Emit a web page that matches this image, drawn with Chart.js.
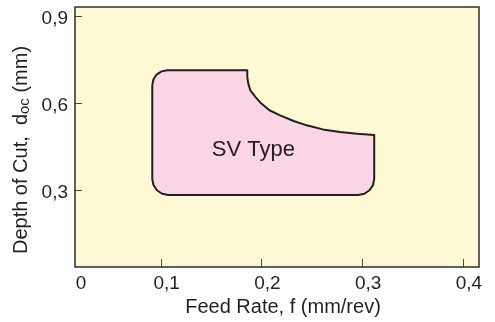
<!DOCTYPE html>
<html>
<head>
<meta charset="utf-8">
<script src="https://cdn.jsdelivr.net/npm/chart.js@4.4.0/dist/chart.umd.min.js"></script>
<style>
  html, body { margin: 0; padding: 0; background: #fff; }
  #wrap { width: 495px; height: 322px; }
</style>
</head>
<body>
<div id="wrap"><canvas id="chart"></canvas></div>
<script>
// axis ticks
var xTicks = [0, 0.1, 0.2, 0.3, 0.4];
var xTickLabels = ['0', '0,1', '0,2', '0,3', '0,4'];
var yTicks = [0.3, 0.6, 0.9];
var yTickLabels = ['0,3', '0,6', '0,9'];

// outline of the SV Type region (feed rate mm/rev, depth of cut mm), clockwise from the left edge
var shapeFeed = [0.0917, 0.0928, 0.0960, 0.1009, 0.1066, 0.186,
                 0.186, 0.187, 0.189, 0.194, 0.200, 0.208, 0.218, 0.232, 0.245, 0.261, 0.278, 0.295, 0.312,
                 0.312, 0.3108, 0.3073, 0.3022, 0.2961,
                 0.1076, 0.1015, 0.0963, 0.0929, 0.0917, 0.0917];
var shapeDepth = [0.661, 0.681, 0.698, 0.709, 0.713, 0.713,
                  0.690, 0.667, 0.644, 0.621, 0.598, 0.575, 0.558, 0.538, 0.523, 0.509, 0.500, 0.494, 0.490,
                  0.338, 0.317, 0.299, 0.287, 0.283,
                  0.283, 0.287, 0.299, 0.317, 0.338, 0.661];

var regionLabel = 'SV Type';
var xTitle = 'Feed Rate, f (mm/rev)';
var yTitle = ['Depth of Cut,  d', 'oc', ' (mm)'];

var FONT = '"Liberation Sans", Arial, Helvetica, sans-serif';
var TEXT = '#231f20';

var shapePoints = shapeFeed.map(function (f, i) {
    return { x: f, y: shapeDepth[i] };
});

// pale plot background, frame, inward tick marks, titles and region label
var decorPlugin = {
    id: 'decor',
    beforeDatasetsDraw: function (chart) {
        var a = chart.chartArea, ctx = chart.ctx;
        ctx.save();
        ctx.fillStyle = '#fff8d5';
        ctx.fillRect(a.left, a.top, a.right - a.left, a.bottom - a.top);
        ctx.restore();
    },
    afterDraw: function (chart) {
        var a = chart.chartArea, ctx = chart.ctx;
        var xs = chart.scales.x, ys = chart.scales.y;
        ctx.save();

        // tick marks pointing into the plot
        ctx.strokeStyle = '#4a4a4a';
        ctx.lineWidth = 1;
        xTicks.forEach(function (v) {
            if (v <= xs.min) return;
            var px = Math.round(xs.getPixelForValue(v)) + 0.5;
            ctx.beginPath();
            ctx.moveTo(px, a.bottom);
            ctx.lineTo(px, a.bottom - 8);
            ctx.stroke();
        });
        yTicks.forEach(function (v) {
            var py = Math.round(ys.getPixelForValue(v)) + 0.5;
            ctx.beginPath();
            ctx.moveTo(a.left, py);
            ctx.lineTo(a.left + 7, py);
            ctx.stroke();
        });

        // frame
        ctx.strokeStyle = '#2e2e2e';
        ctx.lineWidth = 1.5;
        ctx.strokeRect(a.left, a.top, a.right - a.left, a.bottom - a.top);

        // region label
        ctx.fillStyle = TEXT;
        ctx.font = '22px ' + FONT;
        ctx.textAlign = 'center';
        ctx.textBaseline = 'middle';
        ctx.fillText(regionLabel, xs.getPixelForValue(0.192), ys.getPixelForValue(0.438));

        // x title
        ctx.font = '20px ' + FONT;
        ctx.fillText(xTitle, (a.left + a.right) / 2 + 6, 307);

        // y title with subscript
        var big = '20px ' + FONT, small = '15px ' + FONT;
        ctx.font = big;
        var w0 = ctx.measureText(yTitle[0]).width;
        var w2 = ctx.measureText(yTitle[2]).width;
        ctx.font = small;
        var w1 = ctx.measureText(yTitle[1]).width;
        var total = w0 + w1 + w2;
        ctx.translate(21, 150);
        ctx.rotate(-Math.PI / 2);
        ctx.textAlign = 'left';
        var x0 = -total / 2;
        ctx.font = big;
        ctx.fillText(yTitle[0], x0, 0);
        ctx.font = small;
        ctx.fillText(yTitle[1], x0 + w0, 4);
        ctx.font = big;
        ctx.fillText(yTitle[2], x0 + w0 + w1, 0);

        ctx.restore();
    }
};

new Chart(document.getElementById('chart'), {
    type: 'scatter',
    data: {
        datasets: [{
            data: shapePoints,
            showLine: true,
            fill: 'shape',
            backgroundColor: '#f9d5e6',
            borderColor: '#231f20',
            borderWidth: 2,
            borderJoinStyle: 'round',
            pointRadius: 0,
            tension: 0
        }]
    },
    options: {
        responsive: true,
        maintainAspectRatio: false,
        animation: false,
        layout: { padding: { top: 7, right: 16, left: 0, bottom: 0 } },
        plugins: {
            legend: { display: false },
            tooltip: { enabled: false }
        },
        scales: {
            x: {
                type: 'linear',
                min: 0.015,
                max: 0.416,
                grid: { display: false, drawTicks: false },
                border: { display: false },
                afterBuildTicks: function (scale) {
                    scale.ticks = xTicks.map(function (v) {
                        return { value: Math.max(v, scale.min) };
                    });
                },
                afterFit: function (scale) {
                    scale.height = 55;
                    scale.paddingLeft = 0;
                    scale.paddingRight = 0;
                },
                ticks: {
                    autoSkip: false,
                    maxRotation: 0,
                    padding: 5,
                    labelOffset: 6,
                    color: TEXT,
                    font: { family: FONT, size: 19 },
                    callback: function (value, index) { return xTickLabels[index]; }
                }
            },
            y: {
                type: 'linear',
                min: 0.0345,
                max: 0.931,
                grid: { display: false, drawTicks: false },
                border: { display: false },
                afterBuildTicks: function (scale) {
                    scale.ticks = yTicks.map(function (v) { return { value: v }; });
                },
                afterFit: function (scale) {
                    scale.width = 75;
                    scale.paddingTop = 0;
                    scale.paddingBottom = 0;
                },
                ticks: {
                    autoSkip: false,
                    padding: 7,
                    labelOffset: 3,
                    color: TEXT,
                    font: { family: FONT, size: 19 },
                    callback: function (value, index) { return yTickLabels[index]; }
                }
            }
        }
    },
    plugins: [decorPlugin]
});
</script>
</body>
</html>
